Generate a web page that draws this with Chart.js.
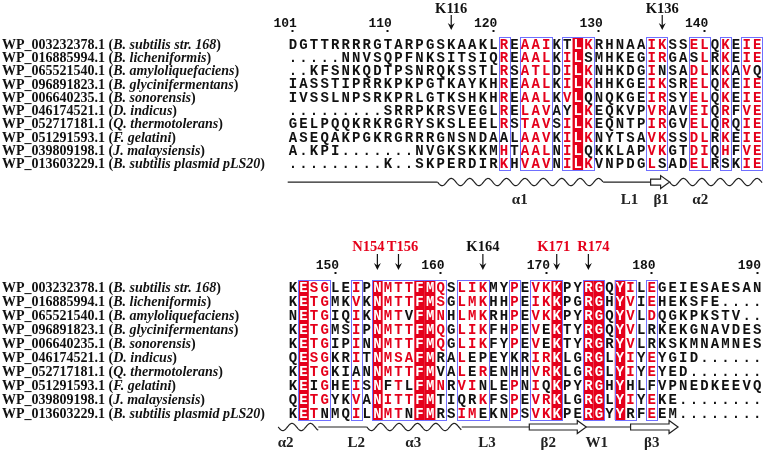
<!DOCTYPE html>
<html><head><meta charset="utf-8">
<script src="https://cdn.jsdelivr.net/npm/chart.js@4.4.0/dist/chart.umd.min.js"></script>
<style>
html,body{margin:0;padding:0;background:#fff;}
#wrap{position:relative;width:764px;height:453px;overflow:hidden;}
.blk{position:absolute;left:0;width:764px;}
canvas{display:block;}
</style></head><body>
<div id="wrap">
<div class="blk" style="top:0;height:226px"><canvas id="c1" width="764" height="226" style="width:764px;height:226px"></canvas></div>
<div class="blk" style="top:226px;height:227px"><canvas id="c2" width="764" height="227" style="width:764px;height:227px"></canvas></div>
</div>
<script>
// ---------------- data ----------------
const seqIds = ["WP_003232378.1","WP_016885994.1","WP_065521540.1","WP_096891823.1","WP_006640235.1",
  "WP_046174521.1","WP_052717181.1","WP_051291593.1","WP_039809198.1","WP_013603229.1"];
const species = ["B. subtilis str. 168","B. licheniformis","B. amyloliquefaciens","B. glycinifermentans",
  "B. sonorensis","D. indicus","Q. thermotolerans","F. gelatini","J. malaysiensis","B. subtilis plasmid pLS20"];

const block1Start = 101;
const block1Seqs = [
  "DGTTRRRRGTARPGSKAAKLREAAIKTLKRHNAAIKSSELQKEIE",
  ".....NNVSQPFNKSITSIQREAALKILSMHKEGIRGASLRKEIE",
  "..KFSNKQDTPSNRQKSSTLRSATLDILKNHKDGINSADLKKAVQ",
  "IASSTIPRRKPKPGTKAYKHREAALKILKHHKGEIKSRELQKEIE",
  "IVSSLNPSRKPRLGTKSHKHREAALKVLQNQKGEIRSYELQKEIE",
  ".........SRRPKRSVEGLRELAVAYLKEQKVPVRAVEIQRFVE",
  "GELPQQKRKRGRYSKSLEELRSTAVSILKEQNTPIRGVELQRQIE",
  "ASEQAKPGKRGRRRGNSNDAALAAVKILKNYTSAVKSSDLRKEIE",
  "A.KPI.......NVGKSKKMHTAALNILQKKLAPVKGTDIQHFVE",
  ".........K..SKPERDIRKHVAVNILKVNPDGLSADELRSKIE"
];
const block1Ticks = [101,110,120,130,140];
const block1MarkLabels = ["K116","K136"];
const block1MarkPos = [116,136];
const block1MarkColors = ["#111","#111"];
const block1Boxes = [[121,121],[123,125],[127,129],[135,136],[139,140],[142,142],[144,145]];
const block1Identical = [128];
const block1SS = [["coil",100.5,114.7],["helix",114.7,130.4],["coil",130.4,134.9],["strand",134.9,136.7],["helix",136.7,145.5]];
const block1SSLabels = ["\u03b11","L1","\u03b21","\u03b12"];
const block1SSLabelPos = [122.5,132.9,135.9,139.6];

const block2Start = 146;
const block2Seqs = [
  "KESGLEIPNMTTFMQSLIKMYPEVKKPYRGQYILEGEIESAESAN",
  "KETGMKVKNMTTFMSGLMKHHPEIKKPGRGHYVIEHEKSFE....",
  "NETGIQIKNMTVFMNHLMKRHPEVKKPYRGQYVLDQGKPKSTV..",
  "KETGMSIPNMTTFMQGLIKFHPEVEKTYRGQYVLRKEKGNAVDES",
  "KETGIPINNMTTFMQGLIKFYPEVEKTYRGRYVLRKSKMNAMNES",
  "QESGKRITNMSAFMRALEPEYKRIRKLGRGLYIYEYGID......",
  "KETGKIANNMTTFMVALERENHHVRKLGRGLYIYEYED.......",
  "KEIGHEISNFTLFMNRVINLEPNIQKPYRGHYHLFVPNEDKEEVQ",
  "QETGYKVANITTFMTIQRKFSPEVRKLGRGLYIYEKE........",
  "KETNMQILNMTNFMRSIMEKNPSVKKPERGYYRFEEM........"
];
const block2Ticks = [150,160,170,180,190];
const block2MarkLabels = ["N154","T156","K164","K171","R174"];
const block2MarkPos = [154,156,164,171,174];
const block2MarkColors = ["#e5001b","#e5001b","#111","#e5001b","#e5001b"];
const block2Boxes = [[147,149],[152,152],[154,160],[162,164],[167,167],[169,171],[174,175],[177,178],[180,180]];
const block2Identical = [147,154,158,159,171,174,175,177];
const block2SS = [["helix",144.6,148.4],["coil",148.4,153.0],["helix",153.0,162.0],["coil",162.0,168.4],["strand",168.4,173.8],["coil",173.8,178.0],["strand",178.0,182.5]];
const block2SSLabels = ["\u03b12","L2","\u03b13","L3","\u03b22","W1","\u03b23"];
const block2SSLabelPos = [145.3,152.0,157.4,164.4,170.2,174.8,180.0];

// ---------------- styling ----------------
const RED = "#e5001b", BLUE = "#6f6fff";
const GROUPS = ["KRH","ILVM","FYW","DE","NQ","QS","NS","ST","AST","AVL","AG"];
function similar(a,b){ return a===b || GROUPS.some(g => g.includes(a) && g.includes(b)); }

function buildBlock(canvasId, cfg){
  const seqs = cfg.seqs, start = cfg.start, n = seqs[0].length, geo = cfg.geo;
  const data = [];
  seqs.forEach((s,r) => { for (let c=0;c<s.length;c++) data.push({x:start+c, y:r+1, aa:s[c]}); });
  const cons = [];
  for (let c=0;c<n;c++){
    const cnt = {}; let best = null;
    seqs.forEach(s => { const a = s[c]; if (a === ".") return; cnt[a] = (cnt[a]||0)+1; if (best===null || cnt[a] > cnt[best]) best = a; });
    cons.push(best);
  }
  const inBox = v => cfg.boxes.some(b => v >= b[0] && v <= b[1]);
  const yMin = 1 - (geo.row1 - geo.axisBottom)/geo.rowH;
  const yMax = geo.yMax;
  const areaBottom = geo.axisBottom + (yMax - yMin)*geo.rowH;
  const left = 287.7, colW = 10.55;
  const right = 764 - (left + n*colW);

  const plugin = {
    id: "msa" + canvasId,
    beforeDatasetsDraw(chart){
      const ctx = chart.ctx, xs = chart.scales.x, ys = chart.scales.y;
      const top = ys.getPixelForValue(0.5), bot = ys.getPixelForValue(seqs.length + 0.5);
      ctx.save();
      ctx.fillStyle = RED;
      cfg.identical.forEach(v => {
        const x0 = xs.getPixelForValue(v-0.5), x1 = xs.getPixelForValue(v+0.5);
        ctx.fillRect(x0, top, x1-x0, bot-top);
      });
      ctx.strokeStyle = BLUE; ctx.lineWidth = 1;
      cfg.boxes.forEach(b => {
        const x0 = xs.getPixelForValue(b[0]-0.5), x1 = xs.getPixelForValue(b[1]+0.5);
        ctx.strokeRect(Math.round(x0)+0.5, Math.round(top)+0.5, Math.round(x1-x0), Math.round(bot-top));
      });
      ctx.restore();
    },
    afterDatasetsDraw(chart){
      const ctx = chart.ctx, xs = chart.scales.x, ys = chart.scales.y;
      const meta = chart.getDatasetMeta(0);
      ctx.save();
      ctx.font = "bold 14px 'Liberation Mono', monospace";
      ctx.textAlign = "center"; ctx.textBaseline = "middle";
      meta.data.forEach((el, i) => {
        const d = chart.data.datasets[0].data[i];
        const c = d.x - start;
        let col = "#111";
        if (d.aa !== ".") {
          if (cfg.identical.includes(d.x)) col = "#fff";
          else if (inBox(d.x) && similar(d.aa, cons[c])) col = RED;
        }
        ctx.fillStyle = col;
        ctx.fillText(d.aa, el.x, el.y + 1);
      });
      // sequence names
      ctx.textAlign = "left";
      seqIds.forEach((id, r) => {
        const y = ys.getPixelForValue(r+1) + 1;
        let x = 2;
        ctx.fillStyle = "#111";
        ctx.font = "bold 14px 'Liberation Serif', serif";
        const p1 = id + " (";
        ctx.fillText(p1, x, y); x += ctx.measureText(p1).width;
        ctx.font = "italic bold 14px 'Liberation Serif', serif";
        ctx.fillText(species[r], x, y); x += ctx.measureText(species[r]).width;
        ctx.font = "bold 14px 'Liberation Serif', serif";
        ctx.fillText(")", x, y);
      });
      // top marks with arrows
      ctx.textAlign = "center";
      ctx.font = "bold 14.5px 'Liberation Serif', serif";
      cfg.markLabels.forEach((lab, i) => {
        const x = xs.getPixelForValue(cfg.markPos[i]);
        ctx.fillStyle = cfg.markColors[i];
        ctx.fillText(lab, x + (cfg.markNudge ? cfg.markNudge[i] : 0), geo.markY);
        ctx.fillStyle = "#111"; ctx.strokeStyle = "#111"; ctx.lineWidth = 1.2;
        ctx.beginPath(); ctx.moveTo(x, geo.arrowY0); ctx.lineTo(x, geo.arrowY1 - 2); ctx.stroke();
        ctx.beginPath(); ctx.moveTo(x-3.5, geo.arrowY1-7); ctx.lineTo(x, geo.arrowY1); ctx.lineTo(x+3.5, geo.arrowY1-7); ctx.lineTo(x, geo.arrowY1-4.5); ctx.closePath(); ctx.fill();
      });
      // secondary structure
      const yl = ys.getPixelForValue(geo.ssRow);
      ctx.strokeStyle = "#222"; ctx.lineWidth = 1.2;
      cfg.ss.forEach(([type, a, b]) => {
        const x0 = xs.getPixelForValue(a), x1 = xs.getPixelForValue(b);
        ctx.beginPath();
        if (type === "coil") { ctx.moveTo(x0, yl); ctx.lineTo(x1, yl); ctx.stroke(); }
        else if (type === "helix") {
          const per = 18.4, amp = 3.6;
          for (let x = x0; x <= x1; x += 0.5) {
            const y = yl + amp*Math.sin(2*Math.PI*(x-x0)/per);
            if (x === x0) ctx.moveTo(x, y); else ctx.lineTo(x, y);
          }
          ctx.stroke();
        } else if (type === "strand") {
          const hl = Math.min(9, (x1-x0)*0.5), bh = 3, hh = 6.5;
          ctx.fillStyle = "#fff";
          ctx.moveTo(x0, yl-bh); ctx.lineTo(x1-hl, yl-bh); ctx.lineTo(x1-hl, yl-hh); ctx.lineTo(x1, yl);
          ctx.lineTo(x1-hl, yl+hh); ctx.lineTo(x1-hl, yl+bh); ctx.lineTo(x0, yl+bh); ctx.closePath();
          ctx.fill(); ctx.stroke();
        }
      });
      ctx.fillStyle = "#222";
      ctx.font = "bold 15px 'Liberation Serif', serif";
      ctx.textBaseline = "middle";
      cfg.ssLabels.forEach((lab, i) => {
        ctx.fillText(lab, xs.getPixelForValue(cfg.ssLabelPos[i]), ys.getPixelForValue(geo.ssLabelRow));
      });
      ctx.restore();
    }
  };

  return new Chart(document.getElementById(canvasId), {
    type: "scatter",
    data: { datasets: [{ data: data, pointRadius: 0, pointHoverRadius: 0, showLine: false }] },
    options: {
      responsive: false, animation: false, events: [],
      layout: { padding: { left: left, right: right, top: geo.axisBottom - 20, bottom: Math.max(0, geo.H - areaBottom) } },
      plugins: { legend: { display: false }, tooltip: { enabled: false } },
      scales: {
        x: {
          type: "linear", position: "top", min: start - 0.5, max: start + n - 0.5,
          afterBuildTicks: s => { s.ticks = cfg.ticks.map(v => ({ value: v })); },
          afterFit: s => { s.height = 20; },
          ticks: { autoSkip: false, maxRotation: 0, minRotation: 0, align: "end", labelOffset: 3.9, padding: 0,
            color: "#111", font: { family: "'Liberation Mono', monospace", size: 13, weight: "bold", lineHeight: 1 },
            callback: v => String(v) },
          grid: { display: true, drawOnChartArea: false, drawTicks: true, tickLength: 2, tickWidth: 2, tickColor: "#111" },
          border: { display: false }
        },
        y: { type: "linear", reverse: true, min: yMin, max: yMax, display: false }
      }
    },
    plugins: [plugin]
  });
}

buildBlock("c1", { start: block1Start, seqs: block1Seqs, ticks: block1Ticks, markLabels: block1MarkLabels,
  markPos: block1MarkPos, markColors: block1MarkColors, boxes: block1Boxes, identical: block1Identical,
  ss: block1SS, ssLabels: block1SSLabels, ssLabelPos: block1SSLabelPos,
  geo: { H: 226, axisBottom: 32, row1: 44, rowH: 13.3, yMax: 13, markY: 9, arrowY0: 15, arrowY1: 30, ssRow: 11.38, ssLabelRow: 12.75 } });

buildBlock("c2", { start: block2Start, seqs: block2Seqs, ticks: block2Ticks, markLabels: block2MarkLabels,
  markPos: block2MarkPos, markColors: block2MarkColors, markNudge: [-9, 4, 0, -3, 5],
  boxes: block2Boxes, identical: block2Identical,
  ss: block2SS, ssLabels: block2SSLabels, ssLabelPos: block2SSLabelPos,
  geo: { H: 227, axisBottom: 48, row1: 61, rowH: 14, yMax: 12.8, markY: 21, arrowY0: 28, arrowY1: 44, ssRow: 11.0, ssLabelRow: 12.14 } });
</script>
</body></html>
